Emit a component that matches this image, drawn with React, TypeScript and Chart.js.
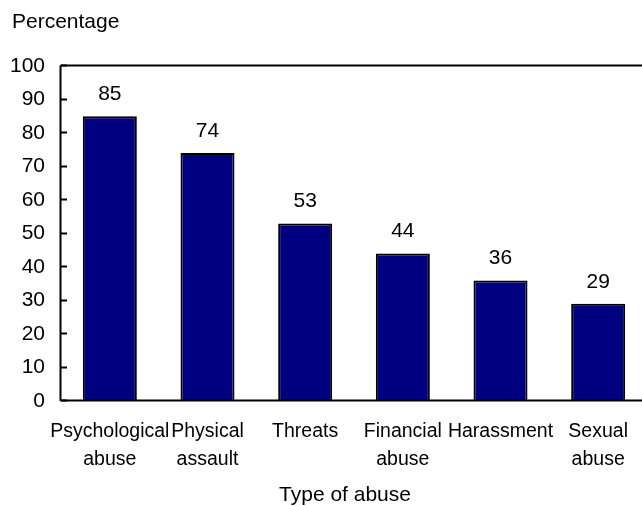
import React, { useEffect, useRef } from "react";
import { Chart, registerables } from "chart.js";

Chart.register(...registerables);

const categories: string[][] = [
  ["Psychological", "abuse"],
  ["Physical", "assault"],
  ["Threats"],
  ["Financial", "abuse"],
  ["Harassment"],
  ["Sexual", "abuse"],
];
const values: number[] = [85, 74, 53, 44, 36, 29];
const yTicks: number[] = [0, 10, 20, 30, 40, 50, 60, 70, 80, 90, 100];
const yTitle = "Percentage";
const xTitle = "Type of abuse";

const FONT = "'Liberation Sans', Arial, sans-serif";

const framePlugin = {
  id: "frame",
  afterDraw(chart: any) {
    const { ctx, chartArea } = chart;
    const y = chart.scales.y;
    ctx.save();
    ctx.strokeStyle = "#000";
    ctx.lineWidth = 2;
    ctx.beginPath();
    ctx.moveTo(chartArea.left - 0.5, chartArea.top - 0.5);
    ctx.lineTo(chart.width, chartArea.top - 0.5);
    ctx.moveTo(chartArea.left - 0.5, chartArea.top - 0.5);
    ctx.lineTo(chartArea.left - 0.5, chartArea.bottom);
    ctx.moveTo(chartArea.left - 0.5, chartArea.bottom - 0.5);
    ctx.lineTo(chart.width, chartArea.bottom - 0.5);
    ctx.stroke();
    ctx.lineWidth = 2;
    ctx.beginPath();
    yTicks.forEach((v) => {
      const py = Math.round(y.getPixelForValue(v)) - 0.5;
      ctx.moveTo(chartArea.left, py);
      ctx.lineTo(chartArea.left + 6, py);
    });
    ctx.stroke();

    // value labels
    const meta = chart.getDatasetMeta(0);
    ctx.fillStyle = "#000";
    ctx.font = `21px ${FONT}`;
    ctx.textAlign = "center";
    ctx.textBaseline = "middle";
    meta.data.forEach((bar: any, i: number) => {
      ctx.fillText(String(values[i]), bar.x, bar.y - 22);
    });

    // titles
    ctx.textAlign = "left";
    ctx.fillText(yTitle, 12, 22);
    ctx.textAlign = "center";
    ctx.fillText(xTitle, 345, 495);
    ctx.restore();
  },
};

export default function App() {
  const ref = useRef<HTMLCanvasElement>(null);
  useEffect(() => {
    if (!ref.current) return;
    const chart = new Chart(ref.current, {
      type: "bar",
      data: {
        labels: categories,
        datasets: [
          {
            data: values,
            backgroundColor: "#000080",
            borderColor: "#000000",
            borderWidth: 2,
            barPercentage: 0.553,
            categoryPercentage: 1,
          },
        ],
      },
      options: {
        animation: false,
        responsive: false,
        layout: { padding: { top: 66, right: 0, bottom: 0, left: 0 } },
        plugins: { legend: { display: false }, tooltip: { enabled: false } },
        scales: {
          x: {
            grid: { display: false, drawTicks: false },
            border: { display: false },
            ticks: {
              color: "#000",
              font: { family: FONT, size: 19.5, lineHeight: "28px" } as any,
              padding: 17,
              maxRotation: 0,
              autoSkip: false,
            },
            afterFit: (s: any) => {
              s.height = 105;
            },
          },
          y: {
            min: 0,
            max: 100,
            grid: { display: false, drawTicks: false },
            border: { display: false },
            ticks: {
              stepSize: 10,
              color: "#000",
              font: { family: FONT, size: 21 },
              padding: 16,
            },
            afterFit: (s: any) => {
              s.width = 61;
            },
          },
        },
      },
      plugins: [framePlugin],
    });
    return () => chart.destroy();
  }, []);
  return (
    <div
      style={{
        position: "fixed",
        left: 0,
        top: 0,
        width: 642,
        height: 506,
        overflow: "hidden",
        background: "#fff",
      }}
    >
      <canvas ref={ref} width={647} height={506} style={{ display: "block" }} />
    </div>
  );
}
